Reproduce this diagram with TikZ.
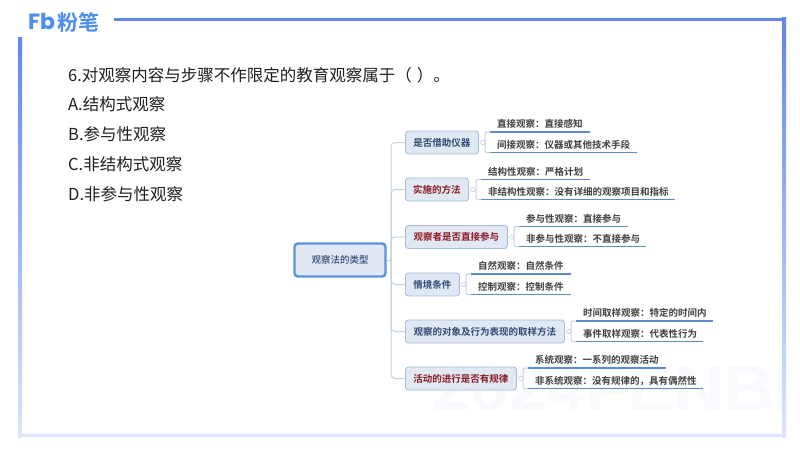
\documentclass[tikz,border=0pt]{standalone}
\usepackage{fontspec}
\setmainfont{Noto Sans CJK SC}[BoldFont=* Bold]
\newfontfamily\rootfont{Noto Sans CJK SC Medium}
\newfontfamily\markfont{Liberation Sans Bold}
\newfontfamily\logolatin{Poppins Bold}
\usetikzlibrary{calc}
\definecolor{framea}{HTML}{5F86EA}
\definecolor{frameb}{HTML}{DCE5FB}
\definecolor{boxfill}{HTML}{DFE8F3}
\definecolor{boxline}{HTML}{A9BDD9}
\definecolor{rootline}{HTML}{5B93D3}
\definecolor{bluetext}{HTML}{2F4A73}
\definecolor{redtext}{HTML}{8E1B24}
\definecolor{leafline}{HTML}{5F8CC8}
\definecolor{linkline}{HTML}{C5D2E4}
\definecolor{logoblue}{HTML}{4A8CF0}
\definecolor{marktext}{HTML}{F8FAFD}
\tikzset{
  question/.style={anchor=west,inner sep=0pt,font=\fontsize{16.5}{18}\selectfont,text=black!88},
  rootbox/.style={draw=rootline,line width=2.4pt,fill=boxfill,rounded corners=3.5pt,minimum width=91pt,minimum height=33pt,inner sep=0pt,text height=7.5pt,text depth=0pt,font=\rootfont\fontsize{9.5}{11}\selectfont,text=bluetext},
  branch/.style={draw=boxline,line width=0.9pt,fill=boxfill,rounded corners=3pt,minimum height=23pt,inner sep=0pt,anchor=west,text height=7.5pt,text depth=0pt,font=\bfseries\fontsize{9.5}{11}\selectfont,text=bluetext},
  redbranch/.style={branch,text=redtext},
  leaf/.style={anchor=south west,inner sep=0pt,minimum height=15pt,font=\bfseries\fontsize{9.5}{11}\selectfont,text=black!75,align=left},
  underl/.style={draw=leafline,line width=1.3pt},
  link/.style={draw=linkline,line width=1pt,rounded corners=4pt},
  bracket/.style={draw=linkline,line width=1pt,rounded corners=2pt},
  knob/.style={circle,draw=linkline,fill=white,line width=0.7pt,minimum size=4.5pt,inner sep=0pt},
}
\newcommand{\leafitem}[5]{%
  \pgfmathsetmacro{\lw}{#3-#2}%
  \node[leaf,text width=\lw pt] (#1) at (#2,#4) {\hspace*{7pt}#5};
  \draw[underl] (#1.south west) -- (#1.south east);
}
\newcommand{\branchset}[4]{% branch, leaf a, leaf b, knob
  \draw[link] (sp) |- (#1.west);
  \node[knob] (#4) at ($(#1.east)+(4,0)$) {};
  \draw[bracket] (#2.south west) -- ++(-5,0) |- (#3.south west);
}
\begin{document}
\begin{tikzpicture}[x=1pt,y=-1pt]
\useasboundingbox (0,0) rectangle (800,450);
\fill[white] (0,0) rectangle (800,450);
% watermark
\begin{scope}
\clip (0,0) rectangle (783,450);
\node[anchor=west,inner sep=0pt,text=marktext,xscale=1.08,font=\markfont\fontsize{64}{70}\selectfont] (mark) at (432,388) {2024FENBI};
\end{scope}
% frame
\fill[framea] (114,17.5) rectangle (786,21);
\shade[top color=framea,bottom color=frameb] (18,37) rectangle (22,437);
\shade[top color=framea,bottom color=frameb] (782,17.5) rectangle (786,437);
\fill[frameb] (18,433.5) rectangle (786,437);
% logo
\node[anchor=west,inner sep=0pt,text=logoblue,font=\logolatin\fontsize{22}{24}\selectfont] (logo) at (28,21) {Fb};
\node[anchor=west,inner sep=0pt,text=logoblue,font=\bfseries\fontsize{21}{24}\selectfont] (logo2) at (57,22) {粉笔};
% question
\node[question] (q) at (68,75) {6.对观察内容与步骤不作限定的教育观察属于（\hspace{5pt}）。};
\node[question] (a) at (68,104) {A.结构式观察};
\node[question] (b) at (68,134) {B.参与性观察};
\node[question] (c) at (68,164) {C.非结构式观察};
\node[question] (d) at (68,194) {D.非参与性观察};
% mind map
\node[rootbox] (root) at (340,260) {观察法的类型};
\coordinate (sp) at (391,260);
\draw[link] (root.east) -- (sp);
\node[branch,minimum width=73pt] (b1) at (405,142.5) {是否借助仪器};
\node[redbranch,minimum width=63pt] (b2) at (405,189.5) {实施的方法};
\node[redbranch,minimum width=102pt] (b3) at (405,237) {观察者是否直接参与};
\node[branch,minimum width=54pt] (b4) at (405,284.5) {情境条件};
\node[branch,minimum width=159pt] (b5) at (405,331.5) {观察的对象及行为表现的取样方法};
\node[redbranch,minimum width=111pt] (b6) at (405,378.5) {活动的进行是否有规律};
\leafitem{l1a}{490}{590}{132}{直接观察：直接感知}
\leafitem{l1b}{490}{637}{152.5}{间接观察：仪器或其他技术手段}
\leafitem{l2a}{481}{590}{179.5}{结构性观察：严格计划}
\leafitem{l2b}{481}{675}{199.5}{非结构性观察：没有详细的观察项目和指标}
\leafitem{l3a}{519}{628}{226.5}{参与性观察：直接参与}
\leafitem{l3b}{519}{646}{246.5}{非参与性观察：不直接参与}
\leafitem{l4a}{471}{571}{274}{自然观察：自然条件}
\leafitem{l4b}{471}{571}{294.5}{控制观察：控制条件}
\leafitem{l5a}{576}{713}{321}{时间取样观察：特定的时间内}
\leafitem{l5b}{576}{703}{341.5}{事件取样观察：代表性行为}
\leafitem{l6a}{528}{666}{368}{系统观察：一系列的观察活动}
\leafitem{l6b}{528}{703}{388.5}{非系统观察：没有规律的，具有偶然性}
\branchset{b1}{l1a}{l1b}{k1}
\branchset{b2}{l2a}{l2b}{k2}
\branchset{b3}{l3a}{l3b}{k3}
\branchset{b4}{l4a}{l4b}{k4}
\branchset{b5}{l5a}{l5b}{k5}
\branchset{b6}{l6a}{l6b}{k6}
\end{tikzpicture}
\end{document}
